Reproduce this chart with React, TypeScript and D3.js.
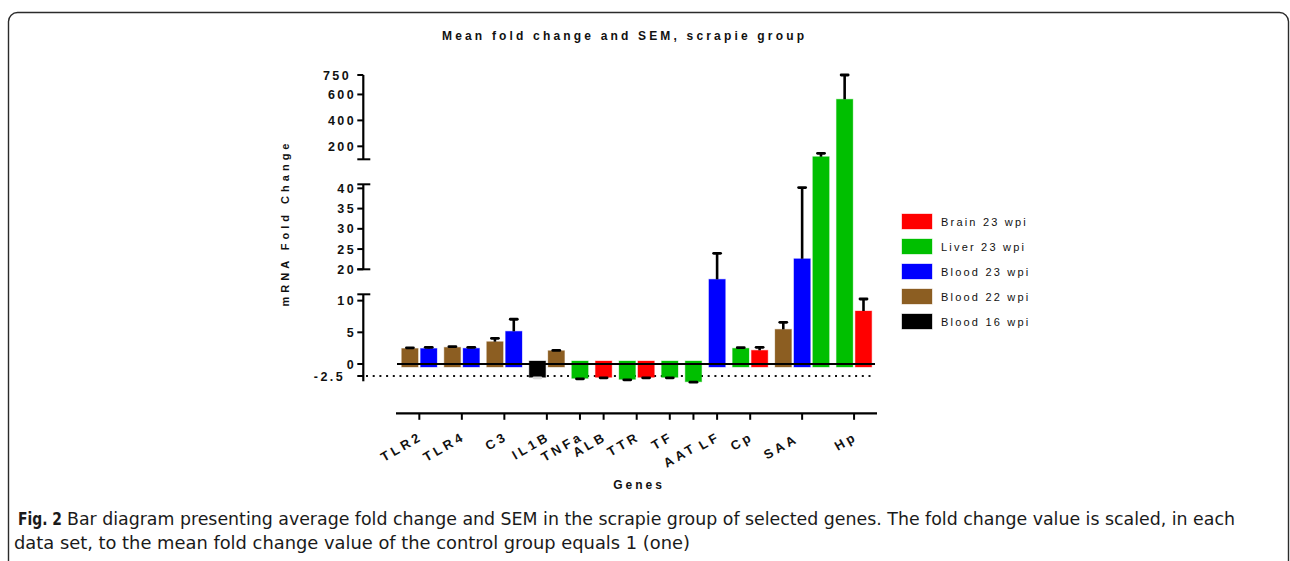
import React from "react";
import * as d3 from "d3";

// ---------------- data ----------------
const genes = ["TLR2", "TLR4", "C3", "IL1B", "TNFa", "ALB", "TTR", "TF", "AAT", "LF", "Cp", "SAA", "Hp"];
const seriesNames = ["Brain 23 wpi", "Liver 23 wpi", "Blood 23 wpi", "Blood 22 wpi", "Blood 16 wpi"];
const seriesColors = ["#ff0000", "#00bf00", "#0000ff", "#8c5e22", "#000000"];

const barGene = ["TLR2", "TLR2", "TLR4", "TLR4", "C3", "C3", "IL1B", "IL1B", "TNFa", "ALB", "TTR", "TTR", "TF", "AAT", "LF", "Cp", "Cp", "SAA", "SAA", "SAA", "Hp", "Hp"];
const barSeries = [
  "Blood 22 wpi", "Blood 23 wpi",
  "Blood 22 wpi", "Blood 23 wpi",
  "Blood 22 wpi", "Blood 23 wpi",
  "Blood 16 wpi", "Blood 22 wpi",
  "Liver 23 wpi",
  "Brain 23 wpi",
  "Liver 23 wpi", "Brain 23 wpi",
  "Liver 23 wpi",
  "Liver 23 wpi",
  "Blood 23 wpi",
  "Liver 23 wpi", "Brain 23 wpi",
  "Blood 22 wpi", "Blood 23 wpi", "Liver 23 wpi",
  "Liver 23 wpi", "Brain 23 wpi",
];
const barMean = [2.45, 2.45, 2.63, 2.48, 3.52, 5.16, -2.77, 2.1, -2.98, -2.77, -3.19, -2.77, -2.77, -3.69, 16.4, 2.48, 2.16, 5.47, 22.6, 120, 563, 8.36];
const barSem = [0.1, 0.18, 0.1, 0.15, 0.53, 1.9, 0.1, 0.05, 0.1, 0.1, 0.1, 0.1, 0.1, 0.1, 7.55, 0.1, 0.47, 1.1, 17.6, 26, 187, 1.9];

// broken y axis: segments (value ranges) and their ticks
const ySegments = [[-3.6, 11], [20, 41], [100, 750]];
const yTicks = [[-2.5, 0, 5, 10], [20, 25, 30, 35, 40], [200, 400, 600, 750]];
const yBreakValues = [11, 20, 41, 100];

const titleText = "Mean fold change and SEM, scrapie group";
const yLabel = "mRNA Fold Change";
const xLabel = "Genes";
const captionBold = "Fig. 2";
const captionLine1 = "Bar diagram presenting average fold change and SEM in the scrapie group of selected genes. The fold change value is scaled, in each";
const captionLine2 = "data set, to the mean fold change value of the control group equals 1 (one)";

// ---------------- layout ----------------
const W = 1290;
const H = 561;
const AXIS_X = 363.3;
const X_AXIS_Y = 413.3;
const GAP = 0.255;
const BARW = 0.87;
const FONT = "'Liberation Sans', Arial, Helvetica, sans-serif";
const CAP_FONT = "'Liberation Sans Narrow', 'DejaVu Sans Condensed', 'Liberation Sans', sans-serif";

const y = d3
  .scaleLinear()
  .domain([-2.5, 0, 11, 20, 41, 100, 750])
  .range([376, 364, 294.3, 269.3, 184.3, 159.3, 75]);

const barUnits = barGene.map((g, i) => i + genes.indexOf(g) * GAP);
const x = d3
  .scaleLinear()
  .domain([0, barGene.length - 1 + (genes.length - 1) * GAP + BARW])
  .range([401.7, 871.7]);

const geneCenters = genes.map((g) => {
  const us = barUnits.filter((_, i) => barGene[i] === g);
  const lo = d3.min(us) as number;
  const hi = (d3.max(us) as number) + BARW;
  return x((lo + hi) / 2);
});

const colorOf = (s: string) => seriesColors[seriesNames.indexOf(s)];

export default function App() {
  const y0 = y(0);
  const over = 3;
  const tickLabelNudge: Record<string, number> = { "750": -5, "-2.5": -11 };
  const xLabelNudge: Record<string, [number, number]> = { AAT: [0, 11], SAA: [-7, 2] };

  return (
    <div style={{ position: "absolute", left: 0, top: 0 }}>
      <svg width={W} height={H} style={{ display: "block", background: "#fff" }}>
        {/* frame */}
        <rect x={8.5} y={12.5} width={1280} height={570} rx={9} ry={9} fill="none" stroke="#2b2b2b" strokeWidth={1.4} />

        {/* title */}
        <text x={623} y={40} textAnchor="middle" fontFamily={FONT} fontWeight="bold" fontSize={12} textLength={362} lengthAdjust="spacing" fill="#111">
          {titleText}
        </text>

        {/* y axis label */}
        <text
          transform={`translate(289,225) rotate(-90)`}
          textAnchor="middle"
          fontFamily={FONT}
          fontWeight="bold"
          fontSize={11}
          textLength={163}
          lengthAdjust="spacing"
          fill="#111"
        >
          {yLabel}
        </text>

        {/* dotted line at -2.5 */}
        <line x1={366} x2={875} y1={y(-2.5)} y2={y(-2.5)} stroke="#111" strokeWidth={2} strokeDasharray="2 4.7" />

        {/* bars */}
        {barGene.map((g, i) => {
          const v = barMean[i];
          const xl = x(barUnits[i]);
          const bw = x(BARW) - x(0);
          const yv = y(v);
          const top = v >= 0 ? yv : y0 - over;
          const bot = v >= 0 ? y0 + over : yv;
          const col = colorOf(barSeries[i]);
          return (
            <rect key={"b" + i} x={xl} y={top} width={bw} height={bot - top} fill={col} stroke={col} strokeOpacity={0.35} strokeWidth={1} />
          );
        })}

        {/* error bars */}
        {barGene.map((g, i) => {
          const v = barMean[i];
          const s = barSem[i];
          const cx = x(barUnits[i] + BARW / 2);
          const ye = y(v >= 0 ? v + s : v - s);
          const col = barSeries[i] === "Blood 16 wpi" ? "#d8d8d8" : "#000";
          return (
            <g key={"e" + i}>
              <line x1={cx} x2={cx} y1={y(v)} y2={ye} stroke={col} strokeWidth={2.6} />
              <line x1={cx - 3.5} x2={cx + 3.5} y1={ye} y2={ye} stroke={col} strokeWidth={2.8} strokeLinecap="round" />
            </g>
          );
        })}

        {/* zero line */}
        <line x1={397} x2={875} y1={y0} y2={y0} stroke="#000" strokeWidth={2.2} />

        {/* y axis segments */}
        {ySegments.map((seg, k) => (
          <line key={"s" + k} x1={AXIS_X} x2={AXIS_X} y1={y(seg[0])} y2={y(seg[1])} stroke="#000" strokeWidth={2.2} />
        ))}
        {yBreakValues.map((v) => (
          <line key={"br" + v} x1={AXIS_X - 6} x2={AXIS_X + 7} y1={y(v)} y2={y(v)} stroke="#000" strokeWidth={2} />
        ))}
        {yTicks.flat().map((t) => {
          const lbl = String(t);
          return (
            <g key={"t" + t}>
              <line x1={AXIS_X - 6} x2={AXIS_X} y1={y(t)} y2={y(t)} stroke="#000" strokeWidth={2} />
              <text
                x={356 + (tickLabelNudge[lbl] || 0)}
                y={y(t) + 4.6}
                textAnchor="end"
                fontFamily={FONT}
                fontWeight="bold"
                fontSize={12.5}
                letterSpacing={2.4}
                fill="#111"
              >
                {lbl}
              </text>
            </g>
          );
        })}

        {/* x axis */}
        <line x1={396} x2={877} y1={X_AXIS_Y} y2={X_AXIS_Y} stroke="#000" strokeWidth={2.2} />
        {genes.map((g, i) => {
          const cx = geneCenters[i];
          const nd = xLabelNudge[g] || [0, 0];
          return (
            <g key={"x" + g}>
              <line x1={cx} x2={cx} y1={X_AXIS_Y} y2={X_AXIS_Y + 6.5} stroke="#000" strokeWidth={2} />
              <text
                transform={`translate(${cx + 4.5 + nd[0]},${439 + nd[1]}) rotate(-30)`}
                textAnchor="end"
                fontFamily={FONT}
                fontWeight="bold"
                fontSize={13}
                letterSpacing={3.4}
                fill="#111"
              >
                {g}
              </text>
            </g>
          );
        })}
        <text x={639} y={489} textAnchor="middle" fontFamily={FONT} fontWeight="bold" fontSize={12} letterSpacing={3} fill="#111">
          {xLabel}
        </text>

        {/* legend */}
        {seriesNames.map((s, i) => {
          const ly = 214 + i * 25;
          return (
            <g key={"l" + s}>
              <rect x={902} y={ly} width={30} height={15} fill={seriesColors[i]} stroke={seriesColors[i]} strokeOpacity={0.35} />
              <text x={941} y={ly + 11.5} fontFamily={FONT} fontSize={11} letterSpacing={2.2} fill="#111">
                {s}
              </text>
            </g>
          );
        })}

        {/* caption */}
        <text x={18} y={525} fontFamily={CAP_FONT} fontWeight="bold" fontSize={18} textLength={44} lengthAdjust="spacingAndGlyphs" fill="#1a1a1a">
          {captionBold}
        </text>
        <text x={67} y={525} fontFamily={CAP_FONT} fontSize={18} textLength={1168} lengthAdjust="spacingAndGlyphs" fill="#1a1a1a">
          {captionLine1}
        </text>
        <text x={14} y={549} fontFamily={CAP_FONT} fontSize={18} textLength={676} lengthAdjust="spacingAndGlyphs" fill="#1a1a1a">
          {captionLine2}
        </text>
      </svg>
    </div>
  );
}
